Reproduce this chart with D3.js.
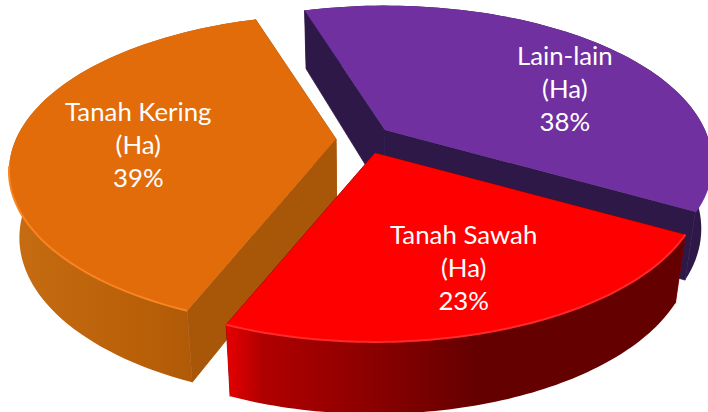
<!DOCTYPE html>
<html>
<head>
<meta charset="utf-8">
<script src="https://cdn.jsdelivr.net/npm/d3@7"></script>
<style>
html, body { margin: 0; padding: 0; background: #fff; overflow: hidden; }
svg { display: block; }
text { font-family: Lato, "Open Sans", sans-serif; fill: #fff; text-anchor: middle; }
</style>
</head>
<body>
<div id="chart"></div>
<script>
// data, drawn clockwise starting from the top-left cut
var categories = ["Lain-lain", "Tanah Sawah", "Tanah Kering"];
var unitLabel = "(Ha)";
var percents = [38, 23, 39];

// look of each slice
var topColors = ["#7030a0", "#ff0000", "#e26b0a"];
var rimColors = ["#7030a0", "#ff2a2a", "#f88420"];
var cutColors = ["#2d1847", "#8c0000", "#a85607"];
var wallStops = [
  [["0", "#2d1847"], ["1", "#2d1847"]],
  [["0", "#e60000"], ["0.08", "#b00000"], ["0.3", "#8e0000"], ["0.55", "#640000"], ["1", "#640000"]],
  [["0", "#c66c12"], ["0.5", "#ba6009"], ["1", "#a55406"]]
];
var centers = [[385, 130], [375, 153], [336, 139]];
var labelNudge = [[31, 17], [10, 11], [9, 11]];

var width = 708, height = 412;
var radiusX = 320, radiusY = 150, persp = 0.206;
var viewX = 355, shrink = 0.97;

var svg = d3.select("#chart").append("svg")
  .attr("width", width)
  .attr("height", height);
var defs = svg.append("defs");
defs.append("filter").attr("id", "soft")
  .append("feGaussianBlur").attr("stdDeviation", 0.7);

var pie = d3.pie()
  .sort(null)
  .startAngle(-17.5 * Math.PI / 180)
  .endAngle(342.5 * Math.PI / 180);
var slices = pie(percents);

var line = d3.line();

// disc point -> screen, bottom=true gives the lower face of the slab
function project(c, angle, r, bottom) {
  var u = r * Math.sin(angle), v = -r * Math.cos(angle);
  var s = 1 / (1 - persp * v);
  var x = c[0] + radiusX * u * s;
  var y = c[1] + radiusY * v * s;
  if (bottom) {
    x = viewX + (x - viewX) * shrink;
    y = y + 65 + 7 * v;
  }
  return [x, y];
}

function rimPoints(d, c, bottom) {
  var n = 80;
  return d3.range(n + 1).map(function(i) {
    return project(c, d.startAngle + (d.endAngle - d.startAngle) * i / n, 1, bottom);
  });
}

// red goes last, it sits over the other two
var drawOrder = [0, 2, 1];

drawOrder.forEach(function(i) {
  var d = slices[i], c = centers[i];
  var g = svg.append("g").attr("class", "slice");
  var apexTop = project(c, 0, 0, false), apexBot = project(c, 0, 0, true);
  var topRim = rimPoints(d, c, false), botRim = rimPoints(d, c, true);

  // flat cut faces
  [[topRim[0], botRim[0]], [topRim[topRim.length - 1], botRim[botRim.length - 1]]].forEach(function(e) {
    g.append("path")
      .attr("d", line([apexTop, e[0], e[1], apexBot]) + "Z")
      .attr("fill", cutColors[i])
      .attr("stroke", cutColors[i])
      .attr("stroke-width", 0.8);
  });

  // curved outer wall
  var xs = d3.extent(topRim, function(p) { return p[0]; });
  var grad = defs.append("linearGradient")
    .attr("id", "wall" + i)
    .attr("gradientUnits", "userSpaceOnUse")
    .attr("x1", xs[0]).attr("x2", xs[1])
    .attr("y1", 0).attr("y2", 0);
  wallStops[i].forEach(function(st) {
    grad.append("stop").attr("offset", st[0]).attr("stop-color", st[1]);
  });
  g.append("path")
    .attr("d", line(topRim.concat(botRim.slice().reverse())) + "Z")
    .attr("fill", "url(#wall" + i + ")");

  // top face
  g.append("path")
    .attr("d", line([apexTop].concat(topRim)) + "Z")
    .attr("fill", topColors[i]);

  // bevel light, only on the part of the rim facing the viewer
  g.append("path")
    .attr("d", line(topRim.filter(function(p) { return p[1] > c[1] + 25; })))
    .attr("fill", "none")
    .attr("stroke", rimColors[i])
    .attr("stroke-width", 2)
    .attr("filter", "url(#soft)");
});

// labels
slices.forEach(function(d, i) {
  var mid = (d.startAngle + d.endAngle) / 2;
  var p = project(centers[i], mid, 0.65, false);
  var x = p[0] + labelNudge[i][0], y = p[1] + labelNudge[i][1];
  var lines = [categories[i], unitLabel, d.data + "%"];
  var t = svg.append("text").attr("font-size", 25.8);
  lines.forEach(function(s, j) {
    t.append("tspan")
      .attr("x", x)
      .attr("y", y + (j - 1) * 33 + 8)
      .text(s);
  });
});
</script>
</body>
</html>
